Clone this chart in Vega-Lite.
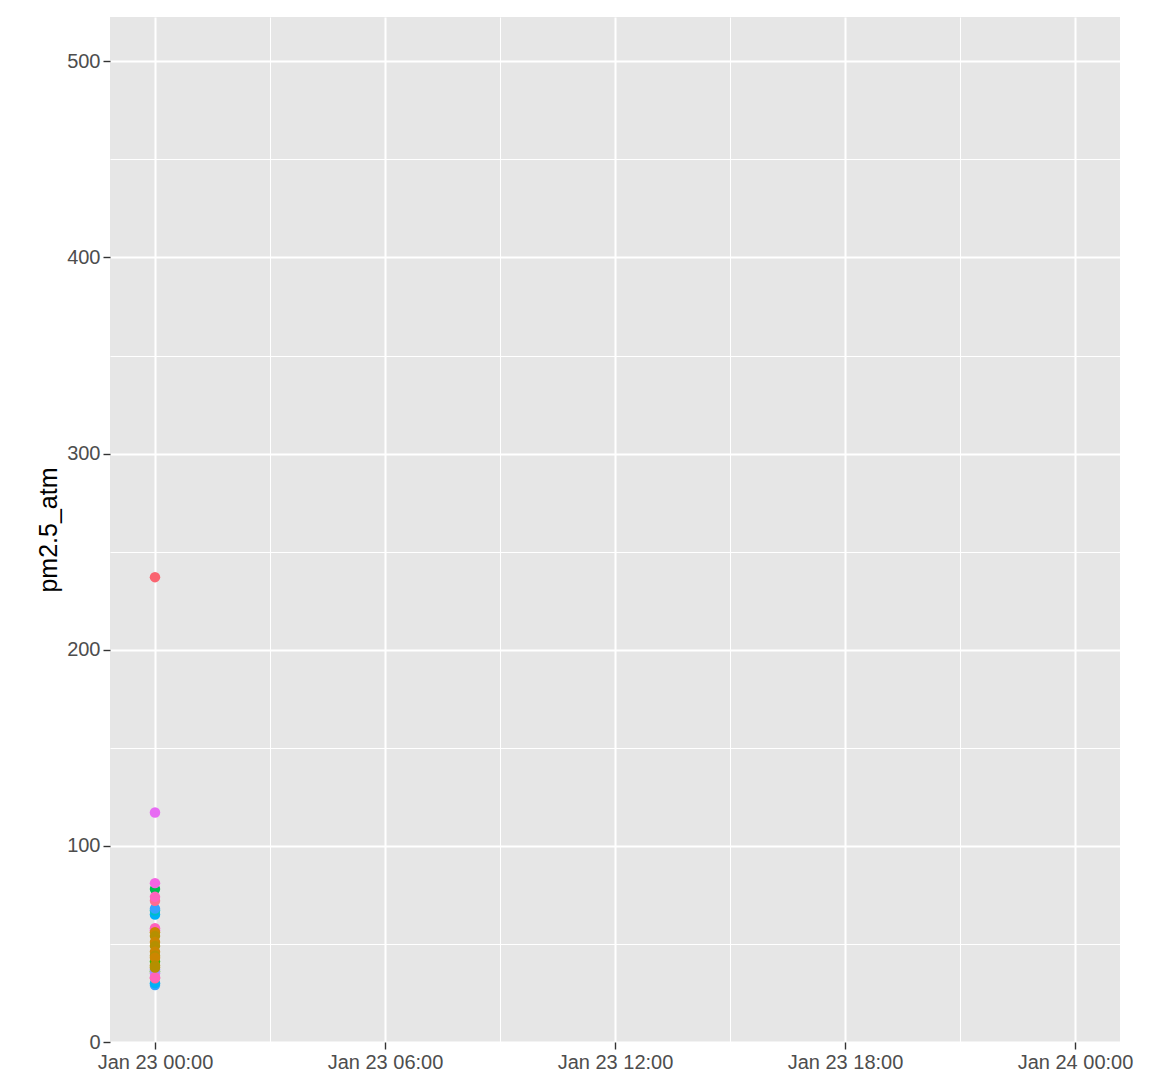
{
  "$schema": "https://vega.github.io/schema/vega-lite/v6.json",
  "autosize": {"type": "none"},
  "width": 1010,
  "height": 1025,
  "padding": {"left": 110, "top": 17, "right": 35, "bottom": 36},
  "background": "white",
  "config": {
    "view": {"fill": "#E6E6E6", "stroke": null},
    "axis": {
      "domain": false,
      "gridColor": "white",
      "tickColor": "#333333",
      "tickSize": 7,
      "tickWidth": 1.4,
      "labelColor": "#4D4D4D",
      "labelFont": "Liberation Sans",
      "labelFontSize": 20,
      "titleFont": "Liberation Sans",
      "titleFontSize": 25,
      "titleFontWeight": "normal",
      "titleColor": "black"
    }
  },
  "data": {
    "values": [
      {"time": "2021-01-23T00:00:00", "sensor": "S07", "pm25_atm": 41},
      {"time": "2021-01-23T00:00:00", "sensor": "S08", "pm25_atm": 78},
      {"time": "2021-01-23T00:00:00", "sensor": "S07", "pm25_atm": 36},
      {"time": "2021-01-23T00:00:00", "sensor": "S15", "pm25_atm": 35},
      {"time": "2021-01-23T00:00:00", "sensor": "S14", "pm25_atm": 37},
      {"time": "2021-01-23T00:00:00", "sensor": "S18", "pm25_atm": 57},
      {"time": "2021-01-23T00:00:00", "sensor": "S19", "pm25_atm": 58},
      {"time": "2021-01-23T00:00:00", "sensor": "S13", "pm25_atm": 29},
      {"time": "2021-01-23T00:00:00", "sensor": "S12", "pm25_atm": 30},
      {"time": "2021-01-23T00:00:00", "sensor": "S20", "pm25_atm": 32.5},
      {"time": "2021-01-23T00:00:00", "sensor": "S19", "pm25_atm": 33},
      {"time": "2021-01-23T00:00:00", "sensor": "S03", "pm25_atm": 56},
      {"time": "2021-01-23T00:00:00", "sensor": "S04", "pm25_atm": 54},
      {"time": "2021-01-23T00:00:00", "sensor": "S03", "pm25_atm": 51},
      {"time": "2021-01-23T00:00:00", "sensor": "S04", "pm25_atm": 49},
      {"time": "2021-01-23T00:00:00", "sensor": "S03", "pm25_atm": 46},
      {"time": "2021-01-23T00:00:00", "sensor": "S04", "pm25_atm": 44},
      {"time": "2021-01-23T00:00:00", "sensor": "S03", "pm25_atm": 43},
      {"time": "2021-01-23T00:00:00", "sensor": "S04", "pm25_atm": 39},
      {"time": "2021-01-23T00:00:00", "sensor": "S04", "pm25_atm": 38},
      {"time": "2021-01-23T00:00:00", "sensor": "S12", "pm25_atm": 65},
      {"time": "2021-01-23T00:00:00", "sensor": "S11", "pm25_atm": 67},
      {"time": "2021-01-23T00:00:00", "sensor": "S13", "pm25_atm": 68},
      {"time": "2021-01-23T00:00:00", "sensor": "S20", "pm25_atm": 72},
      {"time": "2021-01-23T00:00:00", "sensor": "S19", "pm25_atm": 74},
      {"time": "2021-01-23T00:00:00", "sensor": "S17", "pm25_atm": 81},
      {"time": "2021-01-23T00:00:00", "sensor": "S16", "pm25_atm": 117},
      {"time": "2021-01-23T00:00:00", "sensor": "S01", "pm25_atm": 237}
    ]
  },
  "mark": {"type": "point", "filled": true, "opacity": 1, "size": 110, "shape": "circle"},
  "encoding": {
    "x": {
      "field": "time",
      "type": "temporal",
      "title": null,
      "scale": {
        "domain": [
          {"year": 2021, "month": 1, "date": 22, "hours": 22, "minutes": 49, "seconds": 36},
          {"year": 2021, "month": 1, "date": 24, "hours": 1, "minutes": 10, "seconds": 24}
        ],
        "nice": false
      },
      "axis": {
        "values": [
          {"year": 2021, "month": 1, "date": 23, "hours": 0},
          {"year": 2021, "month": 1, "date": 23, "hours": 3},
          {"year": 2021, "month": 1, "date": 23, "hours": 6},
          {"year": 2021, "month": 1, "date": 23, "hours": 9},
          {"year": 2021, "month": 1, "date": 23, "hours": 12},
          {"year": 2021, "month": 1, "date": 23, "hours": 15},
          {"year": 2021, "month": 1, "date": 23, "hours": 18},
          {"year": 2021, "month": 1, "date": 23, "hours": 21},
          {"year": 2021, "month": 1, "date": 24, "hours": 0}
        ],
        "labelExpr": "hours(datum.value) % 6 === 0 ? timeFormat(datum.value, '%b %d %H:%M') : ''",
        "labelFlush": false,
        "labelOverlap": false,
        "labelBound": false,
        "labelPadding": 3,
        "tickOpacity": {"condition": {"test": "hours(datum.value) % 6 !== 0", "value": 0}, "value": 1},
        "gridWidth": {"condition": {"test": "hours(datum.value) % 6 !== 0", "value": 1}, "value": 2}
      }
    },
    "y": {
      "field": "pm25_atm",
      "type": "quantitative",
      "title": "pm2.5_atm",
      "scale": {"domain": [0, 522.6], "nice": false, "zero": false},
      "axis": {
        "values": [0, 50, 100, 150, 200, 250, 300, 350, 400, 450, 500],
        "labelExpr": "datum.value % 100 === 0 ? datum.label : ''",
        "labelPadding": 3,
        "titlePadding": 5,
        "tickOpacity": {"condition": {"test": "datum.value % 100 !== 0", "value": 0}, "value": 1},
        "gridWidth": {"condition": {"test": "datum.value % 100 !== 0", "value": 1}, "value": 2}
      }
    },
    "color": {
      "field": "sensor",
      "type": "nominal",
      "legend": null,
      "scale": {
        "domain": ["S01", "S02", "S03", "S04", "S05", "S06", "S07", "S08", "S09", "S10", "S11", "S12", "S13", "S14", "S15", "S16", "S17", "S18", "S19", "S20"],
        "range": ["#FA6470", "#EA8331", "#CC8600", "#B58F00", "#A3A500", "#7CAE00", "#39B600", "#00BB4E", "#00BF7D", "#00C1A3", "#00BFC4", "#00B0F6", "#35A2FF", "#9590FF", "#C77CFF", "#E76BF3", "#F564E3", "#FA62DB", "#FF62BC", "#FF6C91"]
      }
    }
  }
}
